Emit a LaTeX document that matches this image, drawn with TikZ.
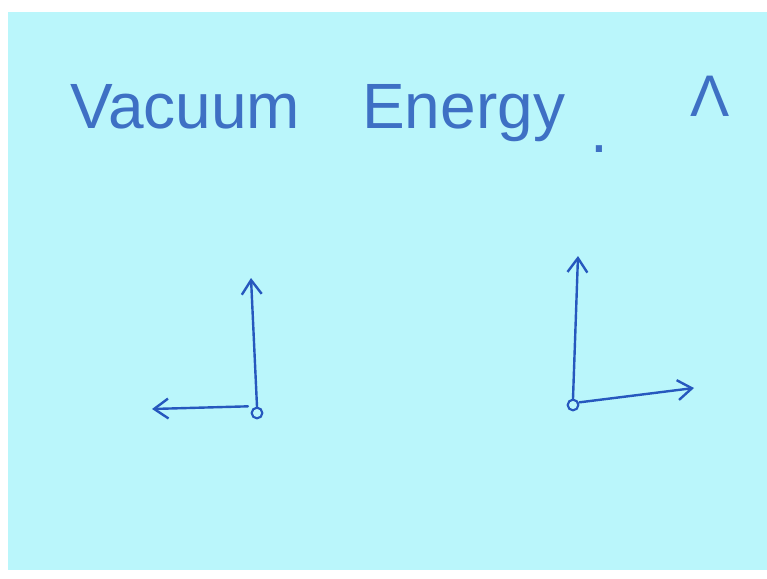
\documentclass[tikz,border=0pt]{standalone}
\usepackage{fontspec}
\setmainfont{Liberation Sans}
\usetikzlibrary{arrows.meta, positioning}
\definecolor{BoardCyan}{RGB}{186, 246, 251}
\definecolor{InkBlue}{RGB}{38, 88, 190}
\definecolor{TitleInk}{RGB}{62, 112, 196}

\begin{document}
\begin{tikzpicture}[x=0.75pt, y=-0.75pt,
    vec/.style={InkBlue, line width=1.8pt, line cap=round,
                -{Straight Barb[angle=70:13pt, line width=1.8pt]}},
    origin/.style={circle, draw=InkBlue, line width=1.6pt, inner sep=0pt, minimum size=8pt},
    title/.style={TitleInk, anchor=base west, inner sep=0pt, font=\fontsize{48}{50}\selectfont}]
    % board and its white margin
    \useasboundingbox (0,0) rectangle (767,578);
    \fill[white] (0,0) rectangle (767,578);
    \fill[BoardCyan] (8,12) rectangle (767,570);

    % title line
    \node[title] (vac) at (70,128) {Vacuum};
    \node[title] (energy) at (362,128) {Energy};
    \node[title] (dot) at (590,152) {.};
    \node[title, font=\fontsize{44}{46}\selectfont] (lam) at (690,116) {Λ};

    % left point: up and left
    \node[origin] (oL) at (257,413) {};
    \coordinate (upL) at (251,278);
    \coordinate (leftL) at (152,409);
    \draw[vec] (oL.north) -- (upL);
    \draw[vec] ([xshift=-2pt, yshift=5pt]oL.west) -- (leftL);

    % right point: up and right
    \node[origin] (oR) at (573,405) {};
    \coordinate (upR) at (578,256);
    \coordinate (rightR) at (694,388);
    \draw[vec] (oR.north) -- (upR);
    \draw[vec] ([yshift=2pt]oR.east) -- (rightR);
\end{tikzpicture}
\end{document}
